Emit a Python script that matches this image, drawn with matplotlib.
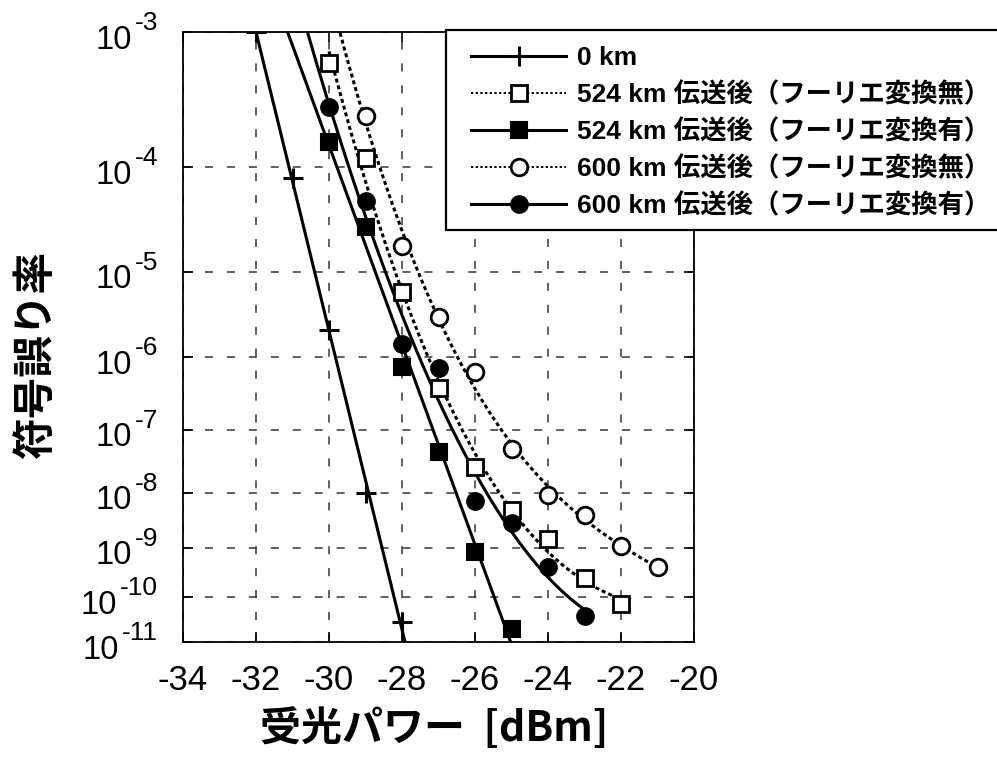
import numpy as np
import matplotlib
matplotlib.use("Agg")
import matplotlib.pyplot as plt
from matplotlib.ticker import FixedLocator, NullLocator
from matplotlib.transforms import ScaledTranslation
from matplotlib.patches import Rectangle

# ---------------- data ----------------
power_0km = [-32, -31, -30, -29, -28]
ber_0km = [1.0e-3, 8.0e-5, 2.2e-6, 1.0e-8, 2.9e-11]

power_524 = [-30, -29, -28, -27, -26, -25, -24, -23, -22]
ber_524_noft = [6.2e-4, 1.19e-4, 6.0e-6, 4.0e-7, 2.65e-8, 4.9e-9, 1.46e-9, 2.5e-10, 7.2e-11]

power_524_ft = [-30, -29, -28, -27, -26, -25]
ber_524_ft = [1.6e-4, 2.86e-5, 7.5e-7, 4.6e-8, 8.3e-10, 2.0e-11]

power_600 = [-29, -28, -27, -26, -25, -24, -23, -22, -21]
ber_600_noft = [2.6e-4, 1.85e-5, 3.1e-6, 6.5e-7, 5.1e-8, 9.1e-9, 4.0e-9, 1.08e-9, 4.2e-10]

power_600_ft = [-30, -29, -28, -27, -26, -25, -24, -23]
ber_600_ft = [3.0e-4, 5.0e-5, 1.47e-6, 7.3e-7, 7.1e-9, 2.9e-9, 4.2e-10, 3.9e-11]

labels = ["0 km",
          "524 km 伝送後（フーリエ変換無）",
          "524 km 伝送後（フーリエ変換有）",
          "600 km 伝送後（フーリエ変換無）",
          "600 km 伝送後（フーリエ変換有）"]

yticks = [1e-3, 1e-4, 1e-5, 1e-6, 1e-7, 1e-8, 1e-9, 1e-10, 1e-11]
xticks = [-34, -32, -30, -28, -26, -24, -22, -20]

# ---------------- scale: -log10(-log10(BER)) ----------------
def fwd(y):
    y = np.clip(np.asarray(y, dtype=float), 1e-300, 1 - 1e-12)
    return -np.log10(-np.log10(y))

def inv(v):
    v = np.asarray(v, dtype=float)
    return 10.0 ** (-(10.0 ** (-v)))

def fit_curve(x, y, deg, x0, x1):
    p = np.polyfit(np.asarray(x, float), fwd(y), deg)
    xx = np.linspace(x0, x1, 400)
    return xx, inv(np.polyval(p, xx))

plt.rcParams['font.family'] = ['Liberation Sans', 'Noto Sans CJK JP', 'DejaVu Sans']
plt.rcParams['axes.unicode_minus'] = False

fig = plt.figure(figsize=(9.97, 7.58), dpi=100)
ax = fig.add_axes([0.1836, 0.153, 0.5125, 0.8048])
ax.set_yscale('function', functions=(fwd, inv))

lw = 2.2
dot = (0, (1.3, 1.0))

series = [
    (power_0km, ber_0km, 1, -33, -27, '-', dict(marker='+', ms=14, mew=2.2, mec='k')),
    (power_524, ber_524_noft, 3, -30, -22, dot, dict(marker='s', ms=12, mew=2.0, mfc='white', mec='k')),
    (power_524_ft, ber_524_ft, 1, -31.5, -24.5, '-', dict(marker='s', ms=11, mew=1.5, mfc='k', mec='k')),
    (power_600, ber_600_noft, 3, -30, -21, dot, dict(marker='o', ms=12, mew=2.0, mfc='white', mec='k')),
    (power_600_ft, ber_600_ft, 2, -31.5, -23, '-', dict(marker='o', ms=12, mew=1.5, mfc='k', mec='k')),
]

handles = []
for (x, y, deg, x0, x1, ls, mk), lab in zip(series, labels):
    xx, yy = fit_curve(x, y, deg, x0, x1)
    ax.plot(xx, yy, color='k', lw=lw, linestyle=ls, zorder=3)
    ax.plot(x, y, linestyle='none', zorder=4, **mk)
    h, = ax.plot([], [], color='k', lw=2.2 if ls == '-' else 1.4,
                 linestyle=ls if ls == '-' else (0, (1.2, 1.2)), label=lab, **mk)
    handles.append(h)

ax.set_xlim(-34, -20)
ax.set_ylim(1e-11, 1e-3)
ax.yaxis.set_major_locator(FixedLocator(yticks))
ax.yaxis.set_minor_locator(NullLocator())
ax.set_xticks(xticks)
ax.set_xticklabels([str(t) for t in xticks])

gl = 1.1
ax.grid(True, which='major', color='#353535', lw=gl, linestyle=(0, (5.8 / gl, 10.0 / gl)), zorder=1)
ax.set_axisbelow(True)
ax.tick_params(direction='in', length=7, width=1.2, top=True, right=True,
               labelsize=25, pad=16, labelleft=False)
for s in ax.spines.values():
    s.set_linewidth(1.3)

# y tick labels: "10" with a large superscript exponent
ytr = ax.get_yaxis_transform()
for t in yticks:
    e = int(round(np.log10(t)))
    sup = ax.text(0, t, '-%d' % (-e), fontsize=19, ha='right', va='baseline',
                  transform=ytr + ScaledTranslation(-0.25, 0.02, fig.dpi_scale_trans))
    ax.annotate('10', xy=(0, t), xycoords=(sup, ytr), xytext=(-2.0, -12.0),
                textcoords='offset points', ha='right', va='baseline', fontsize=23.5)

ax.set_xlabel('受光パワー  [dBm]', fontsize=29.5, fontweight='bold',
              family=['Noto Sans CJK JP', 'Liberation Sans'])
ax.xaxis.set_label_coords(0.491, -0.108)
ax.set_ylabel('符号誤り率', fontsize=30, fontweight='bold', family=['Noto Sans CJK JP'])
ax.yaxis.set_label_coords(-0.247, 0.4705)

# legend box
fig.patches.append(Rectangle((446 / 997, 1 - 230 / 758), 0.6, 200 / 758, transform=fig.transFigure,
                             facecolor='white', edgecolor='k', lw=1.6, zorder=4))
leg = fig.legend(handles=handles, loc='upper left', bbox_to_anchor=(471 / 997, 1 - 46 / 758),
                 borderaxespad=0, frameon=False, borderpad=0,
                 handlelength=3.6, handletextpad=0.42, labelspacing=0.44,
                 numpoints=1, prop=dict(family=['Liberation Sans', 'Noto Sans CJK JP'], weight='bold', size=19))
leg.set_zorder(6)

fig.savefig('out.png', dpi=100)
